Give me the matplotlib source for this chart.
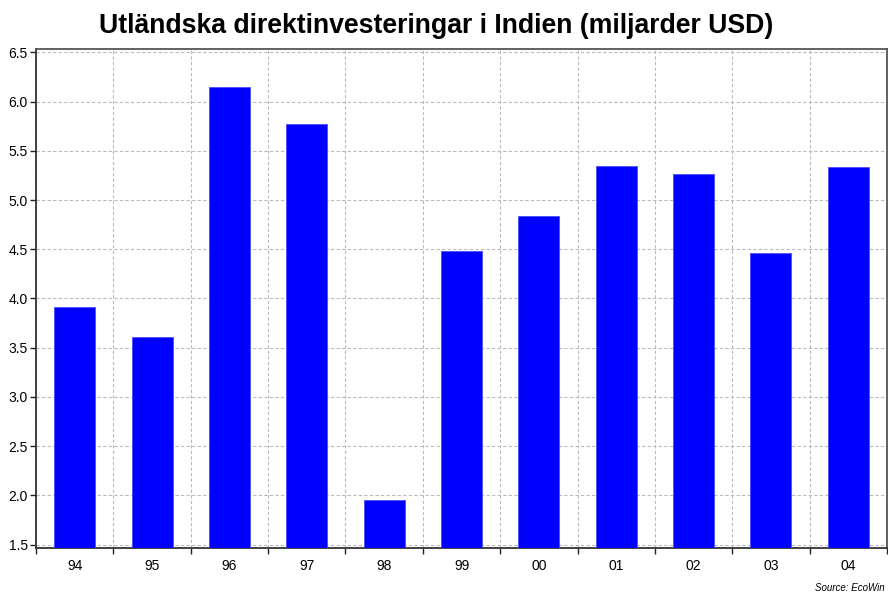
import matplotlib
matplotlib.use("Agg")
import matplotlib.pyplot as plt
import numpy as np

plt.rcParams['font.family'] = ['Liberation Sans', 'DejaVu Sans']

years = ["94", "95", "96", "97", "98", "99", "00", "01", "02", "03", "04"]
values = [3.91, 3.61, 6.15, 5.77, 1.95, 4.48, 4.84, 5.35, 5.27, 4.46, 5.34]
yticks = [1.5, 2.0, 2.5, 3.0, 3.5, 4.0, 4.5, 5.0, 5.5, 6.0, 6.5]
title = "Utländska direktinvesteringar i Indien (miljarder USD)"
source = "Source: EcoWin"

fig = plt.figure(figsize=(8.88, 5.92), dpi=100)
ax = fig.add_axes([36/888, 1-547.5/592, (887-36)/888, (547.5-49)/592])

x = np.arange(len(years))
ax.bar(x, values, width=0.53, color='#0000ff', edgecolor='#4d4dff', linewidth=0.6, zorder=3)
ax.set_xlim(-0.5, len(years)-0.5)
ax.set_ylim(1.47, 6.535)

ax.set_yticks(yticks)
ax.set_yticklabels([f"{v:.1f}" for v in yticks], fontsize=10)
ax.set_xticks(np.arange(len(years)+1)-0.5)
ax.set_xticklabels([])
ax.set_xticks(x, minor=True)
ax.set_xticklabels(years, minor=True, fontsize=10)
ax.tick_params(axis='x', which='minor', length=0, pad=8)
ax.tick_params(axis='x', which='major', length=4, width=1, color='#222222', direction='out')
ax.tick_params(axis='y', length=4, width=1, color='#222222', pad=2)

ax.grid(True, which='major', axis='both', linestyle=(0, (3, 2)), color='#bbbbbb', linewidth=0.8, zorder=0)
ax.set_axisbelow(True)
for s in ax.spines.values():
    s.set_color('#555555')
    s.set_linewidth(1.3)
ax.spines['left'].set_color('#333333')
ax.spines['bottom'].set_color('#333333')

fig.text(436/888, 1-26/592, title, ha='center', va='center', fontsize=19.2, fontweight='bold')
fig.text(885/888, 1-588/592, source, ha='right', va='center', fontsize=7, style='italic')

fig.savefig("out.png", dpi=100)
